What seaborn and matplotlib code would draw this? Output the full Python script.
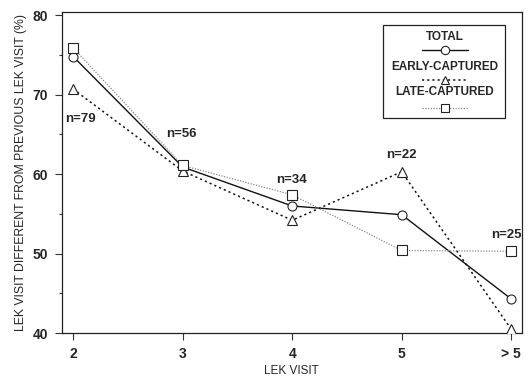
import matplotlib
matplotlib.use("Agg")
import matplotlib.pyplot as plt
from matplotlib.lines import Line2D
from matplotlib.patches import Rectangle
import seaborn as sns
import pandas as pd

# Lek visit categories and percent of visits to a different lek
visits = ["2", "3", "4", "5", "> 5"]
total = [74.8, 60.9, 56.0, 54.9, 44.3]
early = [70.7, 60.4, 54.2, 60.3, 40.5]
late = [75.9, 61.1, 57.4, 50.4, 50.3]
sample_sizes = ["n=79", "n=56", "n=34", "n=22", "n=25"]
series_names = ["TOTAL", "EARLY-CAPTURED", "LATE-CAPTURED"]

sns.set_theme(style="ticks")
plt.rcParams["font.family"] = ["Liberation Sans", "DejaVu Sans"]

rows = []
for name, vals in zip(series_names, [total, early, late]):
    for i, v in enumerate(vals):
        rows.append({"visit": i, "pct": v, "group": name})
df = pd.DataFrame(rows)

fig = plt.figure(figsize=(5.29, 3.76), dpi=100)
ax = fig.add_axes([0.117, 0.114, 0.869, 0.854])

styles = {
    "TOTAL": dict(color="#111111", lw=1.0, ls="-", marker="o"),
    "EARLY-CAPTURED": dict(color="#111111", lw=1.1, ls=(0, (1.4, 2.0)), marker="^"),
    "LATE-CAPTURED": dict(color="#888888", lw=0.9, ls=(0, (1.0, 1.2)), marker="s"),
}
for name in series_names:
    st = styles[name]
    sns.lineplot(data=df[df["group"] == name], x="visit", y="pct", ax=ax,
                 color=st["color"], lw=st["lw"], linestyle=st["ls"],
                 marker=st["marker"], markersize=6.5, markerfacecolor="white",
                 markeredgecolor="#222222", markeredgewidth=0.8,
                 legend=False, zorder=3)

ax.set_xlim(-0.103, 4.095)
ax.set_ylim(40, 80.4)
ax.set_xticks(range(len(visits)))
ax.set_xticklabels(visits)
ax.set_yticks([40, 50, 60, 70, 80])
ax.set_yticks([45, 55, 65, 75], minor=True)
ax.tick_params(axis="both", which="major", length=5, width=0.8, color="#333333",
               labelsize=10, pad=5)
ax.tick_params(axis="y", which="minor", length=2.5, width=0.8, color="#333333")
for lab in ax.get_xticklabels() + ax.get_yticklabels():
    lab.set_fontweight("bold")
for sp in ax.spines.values():
    sp.set_visible(True)
    sp.set_linewidth(0.9)
    sp.set_color("#222222")

ax.set_xlabel("LEK VISIT", fontsize=8.5, labelpad=3)
ax.set_ylabel("LEK VISIT DIFFERENT FROM PREVIOUS LEK VISIT (%)", fontsize=8.8, labelpad=4)

# sample sizes above each visit
n_pos = [(-0.075, 67.0), (0.85, 65.0), (1.855, 59.3), (2.855, 62.4), (3.82, 52.3)]
for txt, (x, y) in zip(sample_sizes, n_pos):
    ax.text(x, y, txt, ha="left", va="center", fontsize=9.5, fontweight="bold")

# legend box with label above each line sample
ax.add_patch(Rectangle((0.698, 0.670), 0.266, 0.290, transform=ax.transAxes,
                       fill=False, edgecolor="#222222", lw=0.9, zorder=5))
leg_text_y = [(333 - 36.5) / 321, (333 - 67) / 321, (333 - 91.5) / 321]
leg_line_y = [(333 - 50) / 321, (333 - 80) / 321, (333 - 108) / 321]
for name, ty, ly in zip(series_names, leg_text_y, leg_line_y):
    st = styles[name]
    ax.text(0.833, ty, name, transform=ax.transAxes, ha="center", va="center",
            fontsize=8.5, fontweight="bold")
    ax.add_line(Line2D([0.783, 0.883], [ly, ly], transform=ax.transAxes,
                       color=st["color"], lw=st["lw"], linestyle=st["ls"]))
    ax.add_line(Line2D([0.833], [ly], transform=ax.transAxes, marker=st["marker"],
                       markersize=6, markerfacecolor="white",
                       markeredgecolor="#222222", markeredgewidth=0.8, lw=0))

fig.savefig("out.png", dpi=100)
